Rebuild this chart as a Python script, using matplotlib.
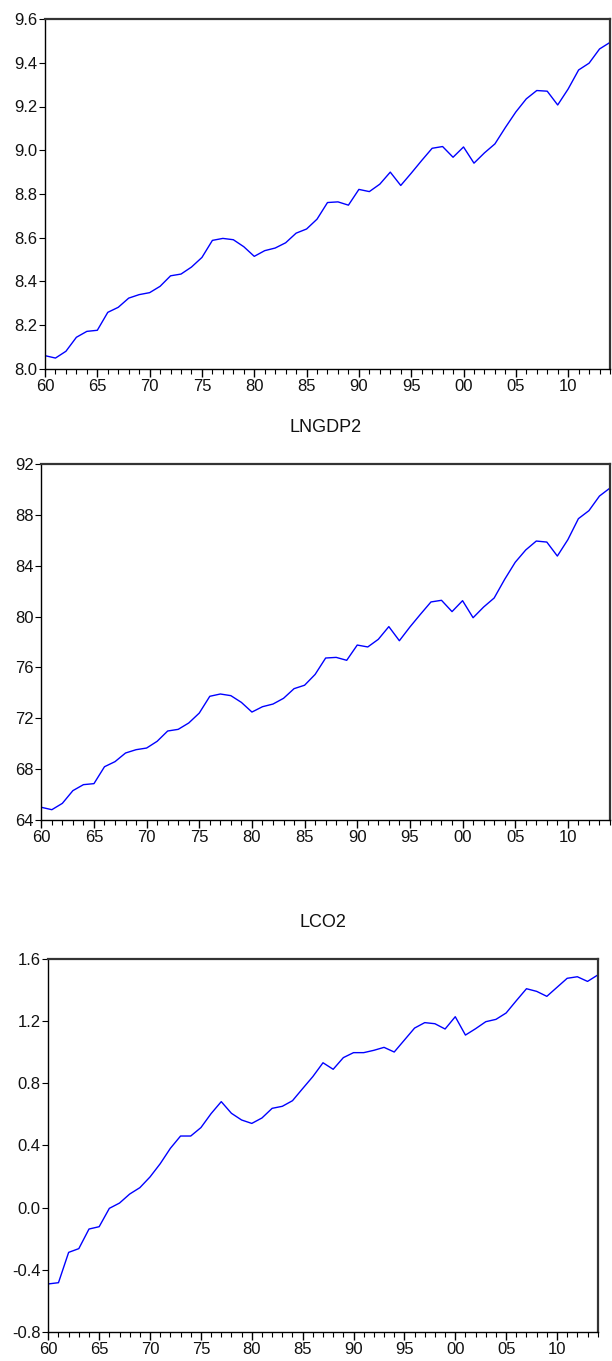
import matplotlib
matplotlib.use("Agg")
import matplotlib.pyplot as plt
from matplotlib.ticker import MultipleLocator, FixedLocator, FuncFormatter

plt.rcParams['font.family'] = ['Liberation Sans', 'DejaVu Sans']
plt.rcParams['axes.unicode_minus'] = False

years = list(range(1960, 2015))

lngdp = [8.061, 8.050, 8.081, 8.145, 8.172, 8.177, 8.259, 8.282, 8.324, 8.340,
         8.349, 8.378, 8.426, 8.434, 8.466, 8.510, 8.588, 8.597, 8.591, 8.559,
         8.515, 8.541, 8.553, 8.577, 8.621, 8.640, 8.685, 8.761, 8.764, 8.749,
         8.821, 8.811, 8.845, 8.900, 8.839, 8.895, 8.953, 9.009, 9.017, 8.968,
         9.015, 8.941, 8.988, 9.029, 9.104, 9.175, 9.235, 9.273, 9.270, 9.207,
         9.280, 9.367, 9.398, 9.463, 9.493]

lngdp2 = [65.00, 64.81, 65.31, 66.31, 66.78, 66.86, 68.19, 68.59, 69.27, 69.53,
          69.66, 70.19, 71.00, 71.13, 71.63, 72.41, 73.73, 73.91, 73.78, 73.25,
          72.49, 72.91, 73.12, 73.57, 74.33, 74.60, 75.45, 76.74, 76.79, 76.56,
          77.76, 77.61, 78.21, 79.21, 78.10, 79.18, 80.18, 81.15, 81.28, 80.39,
          81.25, 79.91, 80.75, 81.46, 82.93, 84.27, 85.24, 85.94, 85.86, 84.76,
          86.05, 87.70, 88.33, 89.48, 90.11]

lco2 = [-0.491, -0.483, -0.288, -0.264, -0.138, -0.123, -0.005, 0.029, 0.087, 0.128,
        0.197, 0.282, 0.381, 0.460, 0.460, 0.514, 0.604, 0.681, 0.606, 0.563,
        0.541, 0.576, 0.638, 0.651, 0.687, 0.765, 0.842, 0.931, 0.889, 0.964,
        0.996, 0.996, 1.011, 1.030, 1.000, 1.077, 1.154, 1.189, 1.182, 1.148,
        1.227, 1.109, 1.150, 1.195, 1.210, 1.251, 1.330, 1.407, 1.390, 1.358,
        1.416, 1.474, 1.484, 1.454, 1.495]

titles = [None, "LNGDP2", "LCO2"]
series = [lngdp, lngdp2, lco2]
ylims = [(8.0, 9.6), (64, 92), (-0.8, 1.6)]
ysteps = [0.2, 4, 0.4]
yfmts = ["{:.1f}", "{:.0f}", "{:.1f}"]
# pixel boxes: left, right, top, bottom
boxes = [(45, 610, 19, 369), (41.3, 610, 464, 820), (48.3, 597.7, 958.7, 1332)]

W, H = 612, 1361
fig = plt.figure(figsize=(W / 100, H / 100), dpi=100)

major_years = list(range(1960, 2015, 5))

for data, title, ylim, ystep, yfmt, box in zip(series, titles, ylims, ysteps, yfmts, boxes):
    l, r, t, b = box
    ax = fig.add_axes([l / W, 1 - b / H, (r - l) / W, (b - t) / H])
    ax.plot(years, data, color='#0000ff', lw=1.0)
    ax.set_xlim(1960, 2014)
    ax.set_ylim(*ylim)
    ax.xaxis.set_major_locator(FixedLocator(major_years))
    ax.xaxis.set_minor_locator(MultipleLocator(1))
    ax.xaxis.set_major_formatter(FuncFormatter(lambda v, p: "{:02d}".format(int(round(v)) % 100)))
    ax.yaxis.set_major_locator(MultipleLocator(ystep))
    ax.yaxis.set_major_formatter(FuncFormatter(lambda v, p, f=yfmt: f.format(v)))
    ax.tick_params(axis='x', which='major', direction='out', length=6, width=1,
                   labelsize=12, pad=1.5, color='black', labelcolor='#111111')
    ax.tick_params(axis='x', which='minor', direction='out', length=3.5, width=0.8, color='black')
    ax.tick_params(axis='y', which='major', direction='out', length=4, width=0.8,
                   labelsize=12, pad=1.5, color='black', labelcolor='#111111')
    for s in ['left', 'bottom']:
        ax.spines[s].set_color('black')
        ax.spines[s].set_linewidth(1.0)
    for s in ['top', 'right']:
        ax.spines[s].set_color('#333333')
        ax.spines[s].set_linewidth(1.6)
    if title:
        fig.text(((l + r) / 2) / W, 1 - (t - 36) / H, title, ha='center', va='center',
                 fontsize=13, color='#111111')

fig.savefig("out.png", dpi=100)
